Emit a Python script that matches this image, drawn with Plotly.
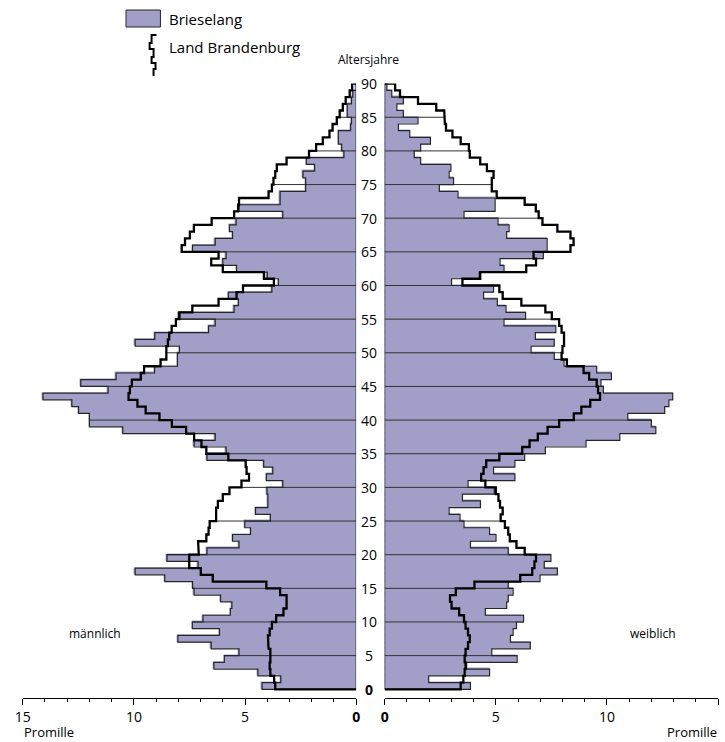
import plotly.graph_objects as go

# ---------------- data (per mille, ages 0..89) ----------------
ages = list(range(90))

bri_m = [4.23, 3.39, 4.42, 6.40, 5.93, 5.27, 6.52, 8.02, 6.15, 7.37,
         6.89, 5.66, 5.59, 6.10, 7.29, 7.36, 8.61, 9.94, 7.11, 8.51,
         6.71, 5.27, 5.56, 4.75, 5.01, 3.86, 4.53, 3.97, 3.97, 4.01,
         3.30, 4.04, 3.75, 4.16, 6.71, 5.85, 7.29, 6.34, 10.50, 12.00,
         12.00, 12.49, 12.79, 14.09, 11.16, 12.39, 10.80, 9.07, 8.04, 8.04,
         7.95, 9.94, 9.06, 6.64, 6.34, 8.00, 5.49, 5.30, 5.75, 3.79,
         3.50, 4.00, 5.38, 6.00, 5.85, 7.36, 6.34, 5.56, 5.70, 5.40,
         3.30, 5.27, 3.42, 3.42, 2.27, 2.27, 2.39, 1.87, 2.24, 0.55,
         0.65, 0.80, 0.80, 0.25, 0.21, 0.40, 0.40, 0.21, 0.15, 0.00]

bbg_m = [3.64, 3.69, 3.86, 3.89, 3.86, 3.86, 3.94, 3.97, 3.89, 3.79,
         3.60, 3.27, 3.13, 3.13, 3.42, 4.04, 6.45, 6.99, 7.51, 7.51,
         7.08, 7.11, 6.74, 6.64, 6.59, 6.30, 6.30, 6.22, 6.00, 5.70,
         5.16, 4.82, 4.93, 4.97, 5.75, 6.74, 6.96, 7.29, 7.65, 8.29,
         8.85, 9.47, 9.84, 10.24, 10.18, 10.09, 9.69, 9.54, 8.80, 8.54,
         8.54, 8.47, 8.41, 8.30, 8.11, 7.95, 7.37, 6.19, 5.38, 5.09,
         3.70, 4.15, 6.00, 6.52, 6.19, 7.85, 7.70, 7.48, 7.30, 6.50,
         5.49, 5.31, 5.27, 3.94, 3.79, 3.72, 3.64, 3.57, 3.13, 2.12,
         1.80, 1.50, 1.20, 1.06, 0.87, 0.74, 0.60, 0.47, 0.29, 0.18]

bri_w = [3.86, 1.98, 4.72, 3.69, 5.96, 4.82, 6.55, 5.66, 5.78, 5.93,
         6.25, 4.53, 5.49, 5.56, 5.78, 5.56, 6.99, 7.77, 7.18, 7.48,
         5.56, 3.86, 5.01, 4.72, 3.57, 3.39, 2.90, 4.31, 3.50, 4.93,
         3.75, 5.86, 4.90, 5.86, 6.30, 7.23, 9.06, 10.58, 12.20, 12.00,
         10.94, 12.60, 12.79, 12.96, 9.84, 9.73, 10.20, 9.54, 8.07, 7.63,
         6.59, 7.63, 6.78, 7.70, 5.37, 6.34, 5.46, 5.07, 4.45, 4.90,
         3.01, 4.25, 5.37, 5.19, 7.14, 7.31, 7.31, 5.49, 5.60, 5.10,
         3.57, 4.97, 4.97, 3.30, 2.46, 3.10, 2.90, 2.98, 1.62, 1.33,
         1.62, 2.06, 1.13, 0.62, 1.50, 0.84, 0.55, 0.84, 0.32, 0.10]

bbg_w = [3.42, 3.54, 3.60, 3.64, 3.60, 3.64, 3.75, 3.83, 3.75, 3.64,
         3.57, 3.35, 3.01, 2.94, 3.20, 4.04, 6.10, 6.64, 6.74, 6.81,
         6.30, 5.93, 5.63, 5.56, 5.41, 5.22, 5.31, 5.19, 5.12, 5.00,
         4.53, 4.34, 4.45, 4.57, 5.16, 6.19, 6.52, 6.89, 7.33, 7.85,
         8.51, 8.85, 9.25, 9.69, 9.60, 9.54, 9.20, 8.95, 8.20, 7.96,
         8.00, 8.07, 8.07, 7.96, 7.85, 7.52, 7.23, 6.15, 5.31, 5.16,
         3.50, 4.30, 6.37, 6.81, 6.70, 8.36, 8.50, 8.36, 7.77, 7.10,
         6.93, 6.80, 6.30, 5.04, 4.82, 4.82, 4.90, 4.60, 4.30, 3.83,
         3.79, 3.42, 3.05, 2.76, 2.71, 2.68, 2.32, 1.50, 0.69, 0.47]

age_ticks = list(range(0, 95, 5))
x_ticks = [0, 5, 10, 15]
x_tick_text = ["<b>0</b>", "5", "10", "15"]

# ---------------- style ----------------
W, H = 725, 742
PURPLE = "#a19fc7"
EDGE = "#262626"
FONT = "Open Sans, Noto Sans, sans-serif"
NARROW = "Liberation Sans Narrow, Open Sans, sans-serif"


def px(x):
    return x / W


def py(y):
    return 1 - y / H


def outline(vals):
    xs, ys = [0], [0]
    for a, v in enumerate(vals):
        xs += [v, v]
        ys += [a, a + 1]
    xs += [0, 0]
    ys += [len(vals), 0]
    return xs, ys


def step_line(vals):
    xs, ys = [0], [0]
    for a, v in enumerate(vals):
        xs += [v, v]
        ys += [a, a + 1]
    xs.append(0)
    ys.append(len(vals))
    return xs, ys


def grid(bri, bbg):
    xs, ys = [], []
    for k in range(5, len(bri), 5):
        m = max(bri[k - 1], bri[k], bbg[k - 1], bbg[k])
        xs += [0, m, None]
        ys += [k, k, None]
    return xs, ys


fig = go.Figure()
centers = [a + 0.5 for a in ages]

for xa, bri, bbg in (("x", bri_m, bbg_m), ("x2", bri_w, bbg_w)):
    fig.add_trace(go.Bar(
        x=bri, y=centers, orientation="h", width=1,
        marker=dict(color=PURPLE, line=dict(color=PURPLE, width=1.2)),
        xaxis=xa, yaxis="y", showlegend=False, hoverinfo="skip"))
    gx, gy = grid(bri, bbg)
    fig.add_trace(go.Scatter(
        x=gx, y=gy, mode="lines", line=dict(color="#333333", width=1),
        xaxis=xa, yaxis="y", showlegend=False, hoverinfo="skip"))
    ox, oy = outline(bri)
    fig.add_trace(go.Scatter(
        x=ox, y=oy, mode="lines", line=dict(color=EDGE, width=1.2),
        xaxis=xa, yaxis="y", showlegend=False, hoverinfo="skip"))
    sx, sy = step_line(bbg)
    fig.add_trace(go.Scatter(
        x=sx, y=sy, mode="lines", line=dict(color="#000000", width=2.3),
        xaxis=xa, yaxis="y", showlegend=False, hoverinfo="skip"))

axis_common = dict(
    tickvals=x_ticks, ticktext=x_tick_text, ticks="outside", ticklen=6,
    tickwidth=1, tickcolor="#000", showline=True, linecolor="#000",
    linewidth=1, showgrid=False, zeroline=False,
    minor=dict(dtick=1, ticks="outside", ticklen=3, tickcolor="#000",
               tickwidth=1, showgrid=False),
    tickfont=dict(family=NARROW, size=14, color="#000"),
    anchor="y", fixedrange=True)

fig.update_layout(
    width=W, height=H,
    margin=dict(l=0, r=0, t=0, b=0),
    paper_bgcolor="white", plot_bgcolor="white",
    bargap=0, barmode="overlay",
    xaxis=dict(domain=[px(15), px(354)], range=[15, 0], **axis_common),
    xaxis2=dict(domain=[px(383), px(722)], range=[0, 15], **axis_common),
    yaxis=dict(domain=[py(698.3), py(83.6)], range=[-1.34, 90],
               visible=False, fixedrange=True),
    font=dict(family=FONT, color="#000"),
)

ann = []
for a in age_ticks:
    ann.append(dict(x=px(367.5), y=a, xref="paper", yref="y",
                    text="<b>0</b>" if a == 0 else str(a),
                    showarrow=False, xanchor="center", yanchor="middle",
                    font=dict(size=14, family=NARROW)))
ann += [
    dict(x=px(367), y=py(60), xref="paper", yref="paper", text="Altersjahre",
         showarrow=False, xanchor="center", yanchor="middle",
         font=dict(size=12, family=NARROW)),
    dict(x=px(88), y=py(633), xref="paper", yref="paper", text="männlich",
         showarrow=False, xanchor="center", yanchor="middle",
         font=dict(size=12, family=FONT)),
    dict(x=px(656), y=py(633), xref="paper", yref="paper", text="weiblich",
         showarrow=False, xanchor="center", yanchor="middle",
         font=dict(size=12, family=FONT)),
    dict(x=px(14), y=py(732), xref="paper", yref="paper", text="Promille",
         showarrow=False, xanchor="left", yanchor="middle",
         font=dict(size=13, family=NARROW)),
    dict(x=px(723), y=py(732), xref="paper", yref="paper", text="Promille",
         showarrow=False, xanchor="right", yanchor="middle",
         font=dict(size=13, family=NARROW)),
    dict(x=px(162), y=py(19), xref="paper", yref="paper", text="Brieselang",
         showarrow=False, xanchor="left", yanchor="middle",
         font=dict(size=15, family=FONT)),
    dict(x=px(162), y=py(47), xref="paper", yref="paper", text="Land Brandenburg",
         showarrow=False, xanchor="left", yanchor="middle",
         font=dict(size=15, family=FONT)),
]
fig.update_layout(annotations=ann)

# legend symbols
sym = [(151, 35), (146, 35), (146, 43), (144, 43), (144, 49), (148, 49),
       (148, 57), (146, 57), (146, 63), (150, 63), (150, 69), (148, 69), (148, 76)]
path = "M " + " L ".join(f"{px(x):.5f},{py(y):.5f}" for x, y in sym)
fig.update_layout(shapes=[
    dict(type="rect", xref="paper", yref="paper",
         x0=px(120), x1=px(155), y0=py(27), y1=py(10),
         fillcolor=PURPLE, line=dict(color=EDGE, width=1)),
    dict(type="path", xref="paper", yref="paper", path=path,
         line=dict(color="#000", width=2)),
])

fig.write_html("out.html",
               config={"displayModeBar": False},
               post_script="document.body.style.margin='0';"
                           "document.body.style.overflow='hidden';")
